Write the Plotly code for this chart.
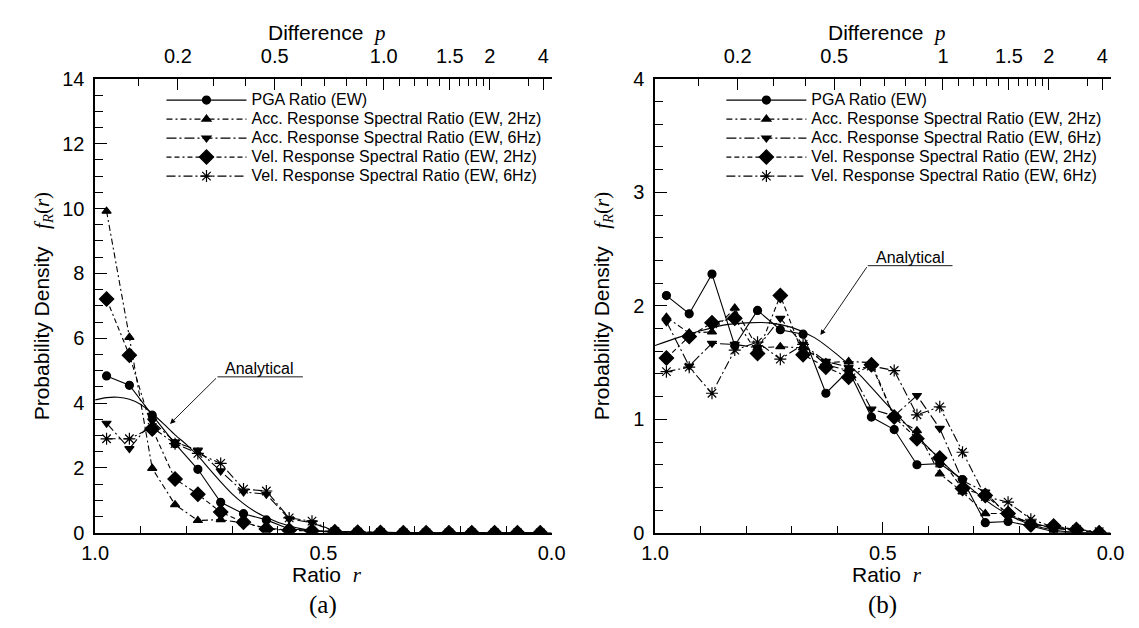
import numpy as np
import plotly.graph_objects as go

# ---------------- data ----------------
r_bins = [0.975, 0.925, 0.875, 0.825, 0.775, 0.725, 0.675, 0.625, 0.575, 0.525,
          0.475, 0.425, 0.375, 0.325, 0.275, 0.225, 0.175, 0.125, 0.075, 0.025]

series_names = ["PGA Ratio (EW)",
                "Acc. Response Spectral Ratio (EW, 2Hz)",
                "Acc. Response Spectral Ratio (EW, 6Hz)",
                "Vel. Response Spectral Ratio (EW, 2Hz)",
                "Vel. Response Spectral Ratio (EW, 6Hz)"]

# panel (a)
pga_a  = [4.84, 4.55, 3.63, 2.75, 1.96, 0.94, 0.59, 0.40, 0.12, 0.07, 0.03, 0.02, 0.01, 0, 0, 0, 0, 0, 0, 0]
acc2_a = [9.92, 6.03, 1.99, 0.87, 0.38, 0.41, 0.30, 0.15, 0.08, 0.05, 0.02, 0.01, 0, 0, 0, 0, 0, 0, 0, 0]
acc6_a = [3.38, 2.60, 3.45, 2.80, 2.55, 1.91, 1.26, 1.19, 0.43, 0.31, 0.05, 0.02, 0.01, 0, 0, 0, 0, 0, 0, 0]
vel2_a = [7.21, 5.48, 3.20, 1.66, 1.19, 0.64, 0.33, 0.12, 0.08, 0.06, 0.03, 0.02, 0.01, 0, 0, 0, 0, 0, 0, 0]
vel6_a = [2.90, 2.90, 3.25, 2.75, 2.45, 2.14, 1.35, 1.29, 0.46, 0.36, 0.04, 0.02, 0.01, 0, 0, 0, 0, 0, 0, 0]

# panel (b)
pga_b  = [2.09, 1.93, 2.28, 1.65, 1.96, 1.79, 1.75, 1.23, 1.43, 1.02, 0.91, 0.60, 0.61, 0.47, 0.09, 0.10, 0.06, 0.01, 0.0, 0.0]
acc2_b = [1.90, 1.76, 1.77, 1.98, 1.63, 1.64, 1.63, 1.50, 1.51, 1.50, 1.02, 0.90, 0.52, 0.36, 0.17, 0.17, 0.08, 0.04, 0.03, 0.0]
acc6_b = [1.86, 1.47, 1.67, 1.66, 1.63, 1.89, 1.66, 1.51, 1.46, 1.09, 1.03, 1.21, 0.92, 0.46, 0.36, 0.15, 0.09, 0.04, 0.02, 0.0]
vel2_b = [1.54, 1.73, 1.85, 1.89, 1.58, 2.09, 1.57, 1.46, 1.37, 1.48, 1.02, 0.83, 0.66, 0.39, 0.33, 0.17, 0.07, 0.06, 0.03, 0.0]
vel6_b = [1.42, 1.46, 1.23, 1.61, 1.68, 1.53, 1.66, 1.48, 1.43, 1.47, 1.43, 1.04, 1.11, 0.71, 0.32, 0.27, 0.12, 0.05, 0.03, 0.01]

# analytical curves
ana_r_a = [1.0, 0.975, 0.95, 0.925, 0.9, 0.875, 0.85, 0.825, 0.8, 0.775, 0.75, 0.725, 0.7,
           0.675, 0.65, 0.625, 0.6, 0.575, 0.55, 0.525, 0.5, 0.45, 0.4, 0.3, 0.2, 0.1, 0.0]
ana_f_a = [4.10, 4.17, 4.18, 4.12, 3.96, 3.68, 3.36, 3.02, 2.72, 2.38, 1.97, 1.57, 1.20,
           0.90, 0.66, 0.48, 0.33, 0.22, 0.13, 0.07, 0.035, 0.008, 0.0, 0.0, 0.0, 0.0, 0.0]
ana_r_b = [1.0, 0.95, 0.9, 0.85, 0.8, 0.75, 0.7, 0.65, 0.6, 0.55, 0.5, 0.45, 0.4, 0.35,
           0.3, 0.25, 0.2, 0.15, 0.1, 0.05, 0.0]
ana_f_b = [1.65, 1.72, 1.78, 1.83, 1.85, 1.85, 1.81, 1.72, 1.57, 1.39, 1.17, 0.96, 0.75, 0.55,
           0.37, 0.22, 0.11, 0.045, 0.012, 0.001, 0.0]

# top axis: difference p, with r = exp(-p)
p_major = [0.2, 0.5, 1.0, 1.5, 2, 4]
p_labels_a = ["0.2", "0.5", "1.0", "1.5", "2", "4"]
p_labels_b = ["0.2", "0.5", "1", "1.5", "2", "4"]
p_minor = [0.1, 0.3, 0.4, 0.6, 0.7, 0.8, 0.9, 1.1, 1.2, 1.3, 1.4, 1.6, 1.7, 1.8, 1.9, 3]

# ---------------- styling ----------------
W, H = 1139, 628
SANS = "Liberation Sans, Arial, sans-serif"
SERIF = "Liberation Serif, Times New Roman, serif"

styles = [
    dict(symbol="circle", size=8, dash="solid"),
    dict(symbol="triangle-up", size=8, dash="6px,3px,2px,3px"),
    dict(symbol="triangle-down", size=8, dash="10px,3px,2px,3px"),
    dict(symbol="diamond", size=11, dash="5px,3px,5px,3px,2px,3px"),
    dict(symbol="asterisk-open", size=10, dash="9px,3px,2px,3px"),
]

A_PX = (75, 543)
B_PX = (649, 1116)
Y_PX = (62, 532.5)

def dom_x(px):
    return [px[0] / W, px[1] / W]

ydom = [1 - Y_PX[1] / H, 1 - Y_PX[0] / H]

fig = go.Figure()

panels = [
    dict(data=[pga_a, acc2_a, acc6_a, vel2_a, vel6_a], xa="x", top="x2", ya="y",
         legend="legend", ana=(ana_r_a, ana_f_a)),
    dict(data=[pga_b, acc2_b, acc6_b, vel2_b, vel6_b], xa="x3", top="x4", ya="y2",
         legend="legend2", ana=(ana_r_b, ana_f_b)),
]

LEG_TXT = "<span style='font-size:16px'>{}</span>"

for pnl in panels:
    # analytical curve drawn on the top (p) axis, which shares the r range
    fig.add_trace(go.Scatter(x=pnl["ana"][0], y=pnl["ana"][1], mode="lines",
                             line=dict(color="black", width=1.1, shape="spline", smoothing=0.8),
                             xaxis=pnl["top"], yaxis=pnl["ya"], showlegend=False,
                             hoverinfo="skip"))
    for name, vals, st in zip(series_names, pnl["data"], styles):
        fig.add_trace(go.Scatter(
            x=r_bins, y=vals, mode="lines+markers", name=LEG_TXT.format(name),
            line=dict(color="black", width=1.1, dash=st["dash"]),
            marker=dict(symbol=st["symbol"], size=st["size"], color="black",
                        line=dict(color="black", width=1.2)),
            xaxis=pnl["xa"], yaxis=pnl["ya"], legend=pnl["legend"]))

tick_font = dict(family=SANS, size=20, color="black")

def bottom_axis(domain, anchor):
    return dict(domain=domain, anchor=anchor, range=[1, 0], showline=True, linecolor="black",
                linewidth=1.5, ticks="inside", ticklen=11, tickwidth=1.3, tickcolor="black",
                tickmode="array", tickvals=[1.0, 0.5, 0.0], ticktext=["1.0", "0.5", "0.0"],
                minor=dict(dtick=0.1, tick0=0, ticks="inside", ticklen=7, tickwidth=1.2,
                           tickcolor="black"),
                showgrid=False, zeroline=False, tickfont=tick_font, ticklabelstandoff=1)

def top_axis(overlay, anchor, labels):
    return dict(overlaying=overlay, anchor=anchor, side="top", range=[1, 0], showline=True,
                linecolor="black", linewidth=1.5, ticks="inside", ticklen=11, tickwidth=1.3,
                tickcolor="black", tickmode="array",
                tickvals=list(np.exp(-np.array(p_major))), ticktext=labels,
                minor=dict(tickmode="array", tickvals=list(np.exp(-np.array(p_minor))),
                           ticks="inside", ticklen=7, tickwidth=1.2, tickcolor="black"),
                showgrid=False, zeroline=False, tickfont=tick_font, ticklabelstandoff=6)

def left_axis(anchor, rng, dtick, minor_dtick):
    return dict(domain=ydom, anchor=anchor, range=rng, showline=True, linecolor="black",
                linewidth=1.5, ticks="inside", ticklen=12, tickwidth=1.3, tickcolor="black",
                dtick=dtick, tick0=0,
                minor=dict(dtick=minor_dtick, tick0=0, ticks="inside", ticklen=8,
                           tickwidth=1.2, tickcolor="black"),
                showgrid=False, zeroline=False, tickfont=tick_font, ticklabelstandoff=5)

legend_common = dict(font=dict(family=SANS, size=12.3, color="black"),
                     bgcolor="rgba(0,0,0,0)", borderwidth=0, tracegroupgap=0,
                     xanchor="left", yanchor="top", itemwidth=80, itemsizing="trace")

ylabel = ("Probability Density   <span style='font-family:Liberation Serif'>"
          "<i>f</i><sub><i>R</i></sub>(<i>r</i>)</span>")
xlabel = "Ratio  <span style='font-family:Liberation Serif'><i>r</i></span>"
toplabel = "Difference  <span style='font-family:Liberation Serif'><i>p</i></span>"

annotations = []
shapes = []
for (px, tag, xa, ya, txt_pos, line_pos, tip) in [
        (A_PX, "(a)", "x", "y", (0.640, 5.08), (0.732, 0.545, 4.81), (0.836, 3.36)),
        (B_PX, "(b)", "x3", "y2", (0.440, 2.43), (0.533, 0.347, 2.354), (0.637, 1.742))]:
    cx = (px[0] + px[1]) / 2 / W
    common = dict(xref="paper", yref="paper", showarrow=False, xanchor="center",
                  yanchor="middle")
    annotations += [
        dict(text=toplabel, x=cx + 4 / W, y=1 - 14 / H,
             font=dict(family=SANS, size=21, color="black"), **common),
        dict(text=xlabel, x=cx + 4 / W, y=1 - 576 / H,
             font=dict(family=SANS, size=21, color="black"), **common),
        dict(text=tag, x=cx, y=1 - 607 / H,
             font=dict(family=SERIF, size=25, color="black"), **common),
        dict(text=ylabel, x=(px[0] - 54) / W, y=(ydom[0] + ydom[1]) / 2, textangle=-90,
             font=dict(family=SANS, size=21, color="black"), **common),
        dict(text="Analytical", x=txt_pos[0], y=txt_pos[1], xref=xa, yref=ya,
             xanchor="center", yanchor="middle",
             showarrow=False, font=dict(family=SANS, size=16, color="black")),
        dict(text="", x=tip[0], y=tip[1], ax=line_pos[0], ay=line_pos[2], xref=xa, yref=ya,
             axref=xa, ayref=ya, showarrow=True, arrowhead=2, arrowsize=1.2,
             arrowwidth=0.9, arrowcolor="black"),
    ]
    shapes.append(dict(type="line", xref=xa, yref=ya, x0=line_pos[0], x1=line_pos[1],
                       y0=line_pos[2], y1=line_pos[2], line=dict(color="black", width=0.9)))

fig.update_layout(
    width=W, height=H, margin=dict(l=0, r=0, t=0, b=0),
    paper_bgcolor="white", plot_bgcolor="white",
    xaxis=bottom_axis(dom_x(A_PX), "y"),
    xaxis2=top_axis("x", "y", p_labels_a),
    xaxis3=bottom_axis(dom_x(B_PX), "y2"),
    xaxis4=top_axis("x3", "y2", p_labels_b),
    yaxis=left_axis("x", [0, 14], 2, 0.5),
    yaxis2=left_axis("x3", [0, 4], 1, 0.2),
    legend=dict(x=143 / W, y=1 - 69 / H, **legend_common),
    legend2=dict(x=(143 + 574) / W, y=1 - 69 / H, **legend_common),
    annotations=annotations, shapes=shapes,
)

fig.write_html("out.html")
